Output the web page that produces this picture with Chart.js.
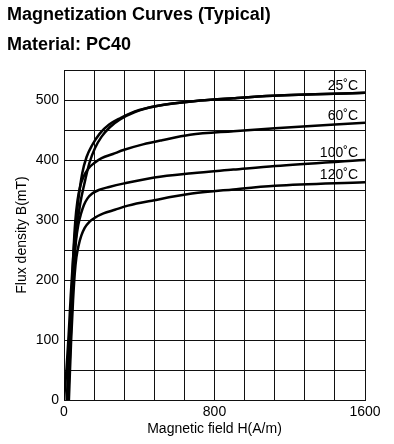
<!DOCTYPE html>
<html>
<head>
<meta charset="utf-8">
<script src="https://cdn.jsdelivr.net/npm/chart.js@4.4.0/dist/chart.umd.min.js"></script>
<style>
  html, body { margin: 0; padding: 0; background: #fff; }
</style>
</head>
<body>
<canvas id="chart" width="394" height="444"></canvas>
<script>
// magnetic field H (A/m) and flux density B (mT)
const h25a = [0, 14, 25, 36, 48, 62, 78, 97, 120, 150, 190, 240, 300, 377, 493, 723, 900, 1111, 1600];
const b25a = [0, 55, 110, 175, 235, 290, 338, 378, 405, 425, 444, 459, 470, 481, 490, 499, 503, 507, 512];
const h25b = [15, 28, 40, 52, 66, 85, 108, 135, 165, 200, 245, 300, 377, 493, 723, 900, 1111, 1600];
const b25b = [0, 90, 170, 230, 280, 325, 360, 395, 420, 439, 455, 468, 480, 490, 499, 503, 507, 512];
const h60 = [18, 31, 41, 50, 60, 72, 87, 105, 130, 161, 200, 260, 320, 420, 521, 670, 900, 1122, 1600];
const b60 = [0, 100, 175, 245, 298, 333, 357, 373, 386, 395, 403, 410, 417, 426, 433, 442, 448, 453, 462];
const h100 = [22, 35, 46, 55, 64, 76, 90, 106, 125, 150, 185, 240, 320, 480, 680, 900, 1122, 1600];
const b100 = [0, 100, 178, 232, 266, 292, 310, 325, 336, 344, 350, 355, 361, 371, 378, 384, 390, 400];
const h120 = [26, 38, 48, 57, 66, 78, 92, 110, 135, 165, 210, 270, 340, 480, 680, 900, 1122, 1600];
const b120 = [0, 100, 165, 210, 238, 258, 274, 287, 297, 304, 311, 317, 324, 333, 344, 351, 357, 363];

const curveNames = ['25˚C', '', '60˚C', '100˚C', '120˚C'];
const xTickLabels = [0, 800, 1600];
const yTickLabels = [0, 100, 200, 300, 400, 500];

const FONT = "'Liberation Sans', Arial, Helvetica, sans-serif";

function toPoints(hs, bs) {
  return hs.map((h, i) => ({ x: h, y: bs[i] }));
}

const series = [[h25a, b25a], [h25b, b25b], [h60, b60], [h100, b100], [h120, b120]];

const curveLabels = {
  id: 'curveLabels',
  afterDatasetsDraw(chart) {
    const { ctx, scales } = chart;
    ctx.save();
    ctx.font = '14px ' + FONT;
    ctx.fillStyle = '#000';
    ctx.textAlign = 'right';
    ctx.textBaseline = 'alphabetic';
    chart.data.datasets.forEach((ds) => {
      if (!ds.label) return;
      const last = ds.data[ds.data.length - 1];
      const x = scales.x.getPixelForValue(last.x) - 7;
      const y = scales.y.getPixelForValue(last.y) - 3;
      ctx.fillText(ds.label, x, y);
    });
    ctx.restore();
  }
};

new Chart(document.getElementById('chart'), {
  type: 'line',
  data: {
    datasets: series.map(([hs, bs], i) => ({
      label: curveNames[i],
      data: toPoints(hs, bs),
      borderColor: '#000',
      borderWidth: 2.5,
      pointRadius: 0,
      fill: false,
      cubicInterpolationMode: 'monotone',
    })),
  },
  options: {
    responsive: false,
    animation: false,
    layout: { padding: { left: 7, right: 29, top: 0, bottom: 4 } },
    plugins: {
      legend: { display: false },
      tooltip: { enabled: false },
      title: {
        display: true,
        align: 'start',
        text: ['Magnetization Curves (Typical)', 'Material: PC40'],
        color: '#000',
        font: { family: FONT, size: 18, weight: 'bold', lineHeight: 30 / 18 },
        padding: { top: 0, bottom: 10 },
      },
    },
    scales: {
      x: {
        type: 'linear',
        min: 0,
        max: 1600,
        afterFit: (s) => { s.height = 40; },
        ticks: {
          stepSize: 160,
          autoSkip: false,
          maxRotation: 0,
          padding: 4,
          color: '#000',
          font: { family: FONT, size: 14 },
          callback: (v) => (xTickLabels.includes(v) ? v : ''),
        },
        grid: { color: '#111', lineWidth: 1, drawTicks: false },
        border: { color: '#111' },
        title: {
          display: true,
          text: 'Magnetic field H(A/m)',
          color: '#000',
          font: { family: FONT, size: 14 },
          padding: { top: 0, bottom: 2 },
        },
      },
      y: {
        min: 0,
        max: 550,
        afterFit: (s) => { s.width = 57; },
        ticks: {
          stepSize: 50,
          padding: 5,
          color: '#000',
          font: { family: FONT, size: 14 },
          callback: (v) => (yTickLabels.includes(v) ? v : ''),
        },
        grid: { color: '#111', lineWidth: 1, drawTicks: false },
        border: { color: '#111' },
        title: {
          display: true,
          text: 'Flux density B(mT)',
          color: '#000',
          font: { family: FONT, size: 14 },
          padding: { top: 7, bottom: 0 },
        },
      },
    },
  },
  plugins: [curveLabels],
});
</script>
</body>
</html>
